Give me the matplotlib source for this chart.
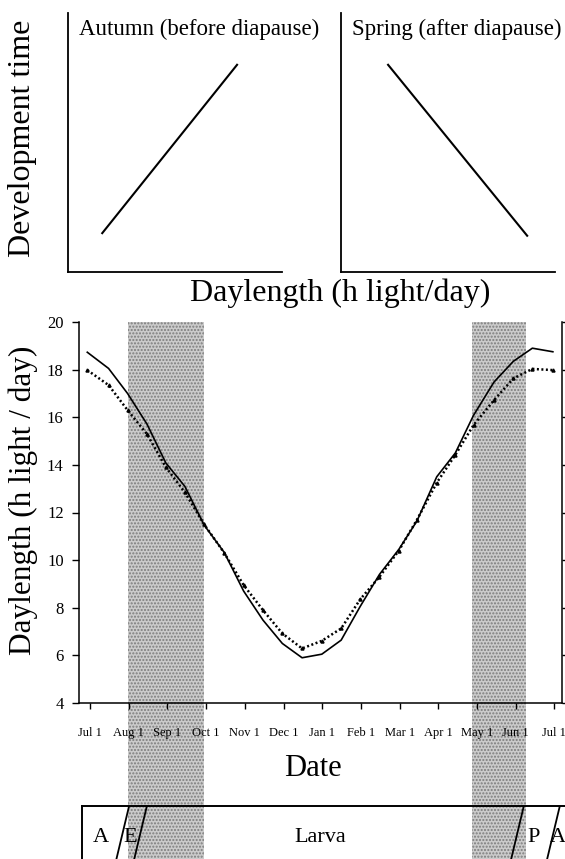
import matplotlib
matplotlib.use("Agg")
import matplotlib.pyplot as plt
from matplotlib.patches import Rectangle

plt.rcParams['font.family'] = ['Liberation Serif', 'DejaVu Serif']

W, H = 565, 859

# sampling dates, in months after Jul 1 (x axis treats months as equal)
sample_month = [-0.07, 0.48, 0.97, 1.47, 1.96, 2.45, 2.95, 3.47, 3.97, 4.47,
                4.97, 5.48, 5.99, 6.49, 6.98, 7.48, 7.98, 8.45, 8.96, 9.44,
                9.91, 10.44, 10.94, 11.43, 11.96]
daylength_solid = [18.73, 18.05, 17.0, 15.72, 14.08, 13.1, 11.47, 10.32, 8.7, 7.48,
                   6.5, 5.9, 6.05, 6.64, 8.05, 9.4, 10.45, 11.65, 13.5, 14.5,
                   16.08, 17.48, 18.35, 18.9, 18.75]
daylength_dotted = [17.98, 17.35, 16.3, 15.3, 13.9, 12.85, 11.5, 10.3, 8.95, 7.9,
                    6.92, 6.29, 6.61, 7.13, 8.35, 9.3, 10.4, 11.7, 13.25, 14.42,
                    15.67, 16.72, 17.63, 18.03, 17.98]

month_labels = ['Jul 1', 'Aug 1', 'Sep 1', 'Oct 1', 'Nov 1', 'Dec 1', 'Jan 1',
                'Feb 1', 'Mar 1', 'Apr 1', 'May 1', 'Jun 1', 'Jul 1']
y_ticks = [4, 6, 8, 10, 12, 14, 16, 18, 20]

# sensitive periods (months after Jul 1)
shade_spans = [(0.98, 2.95), (9.87, 11.265)]

# life stage boundaries along the top of the stage bar
stage_bounds = [1.01, 1.47, 11.21, 12.14]
stage_names = ['A', 'E', 'Larva', 'P', 'A']
stage_text_x = [0.27, 1.05, 5.95, 11.47, 12.1]

# schematic response lines (axes fractions)
autumn_x = [0.16, 0.79]
autumn_y = [0.15, 0.80]
spring_x = [0.22, 0.87]
spring_y = [0.80, 0.14]


def px_rect(left, top, right, bottom):
    return [left / W, 1 - bottom / H, (right - left) / W, (bottom - top) / H]


fig = plt.figure(figsize=(W / 100, H / 100), dpi=100)

# --- schematic panels ---
for rect, xs, ys, title in [
        (px_rect(68, 13, 282, 272), autumn_x, autumn_y, 'Autumn (before diapause)'),
        (px_rect(341, 13, 555, 272), spring_x, spring_y, 'Spring (after diapause)')]:
    a = fig.add_axes(rect)
    a.plot(xs, ys, color='black', lw=1.5)
    a.set_xlim(0, 1)
    a.set_ylim(0, 1)
    a.spines[['top', 'right']].set_visible(False)
    for s in ['left', 'bottom']:
        a.spines[s].set_linewidth(1.3)
    a.set_xticks([])
    a.set_yticks([])
    a.text(0.05, 0.915, title, transform=a.transAxes, fontsize=16.5,
           ha='left', va='baseline')

fig.text(23 / W, 1 - 138 / H, 'Development time', rotation=90,
         ha='center', va='center', fontsize=23)
fig.text(340 / W, 1 - 301 / H, 'Daylength (h light/day)',
         ha='center', va='baseline', fontsize=23)

# --- daylength through the year ---
ax = fig.add_axes(px_rect(79, 322, 562, 703))
x0 = (79 - 90) / 38.7
x1 = (562 - 90) / 38.7
ax.set_xlim(x0, x1)
ax.set_ylim(4, 20)

for lo, hi in shade_spans:
    ax.add_patch(Rectangle((lo, -0.6), hi - lo, 1.6,
                           transform=ax.get_xaxis_transform(), clip_on=False,
                           facecolor='#cbcbcb', edgecolor='#7c7c7c',
                           hatch='.....', lw=0, zorder=0))

ax.plot(sample_month, daylength_solid, color='black', lw=1.2, zorder=3)
ax.plot(sample_month, daylength_dotted, color='black', lw=1.8,
        linestyle=(0, (0.8, 1.0)), marker='^', ms=2.2, zorder=3)

ax.spines['top'].set_visible(False)
for s in ['left', 'bottom', 'right']:
    ax.spines[s].set_linewidth(1.1)
ax.set_facecolor('none')
ax.set_xticks(range(len(month_labels)))
ax.set_xticklabels(month_labels, fontsize=9)
ax.set_yticks(y_ticks)
ax.set_yticklabels([str(v) for v in y_ticks], fontsize=12)
ax.tick_params(axis='x', direction='out', length=4, width=1, pad=13)
ax.tick_params(axis='y', direction='out', length=5, width=1, pad=6,
               right=True, labelright=False)

fig.text(23 / W, 1 - 500 / H, 'Daylength (h light / day)', rotation=90,
         ha='center', va='center', fontsize=22.5)
fig.text(313 / W, 1 - 776 / H, 'Date', ha='center', va='baseline', fontsize=22)

# --- life stage bar ---
sb = fig.add_axes(px_rect(82, 806, 640, 900))
sb.set_xlim((82 - 90) / 38.7, (640 - 90) / 38.7)
sb.set_ylim(0, 1)
sb.set_facecolor('none')
sb.spines[['right', 'bottom']].set_visible(False)
for s in ['left', 'top']:
    sb.spines[s].set_linewidth(1.4)
sb.set_xticks([])
sb.set_yticks([])
slant = 0.58
for b in stage_bounds:
    sb.plot([b, b - slant], [1, 0], color='black', lw=1.3)
for name, tx in zip(stage_names, stage_text_x):
    sb.text(tx, 0.66, name, ha='center', va='center', fontsize=16)

fig.savefig('out.png', dpi=100)
